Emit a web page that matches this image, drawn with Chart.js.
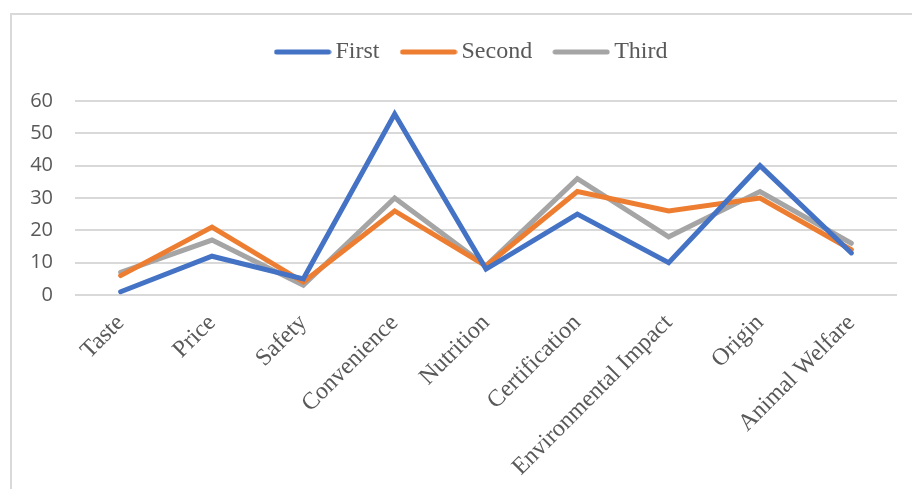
<!DOCTYPE html>
<html>
<head>
<meta charset="utf-8">
<script src="https://cdn.jsdelivr.net/npm/chart.js@4/dist/chart.umd.min.js"></script>
<style>
  html, body { margin: 0; padding: 0; background: #ffffff; }
  #wrap { position: relative; width: 912px; height: 489px; overflow: hidden; }
  #frame { position: absolute; left: 10px; top: 13px; width: 960px; height: 520px;
           border-left: 2px solid #d9d9d9; border-top: 2px solid #d9d9d9; box-sizing: border-box; }
  #c { position: absolute; left: 0; top: 0; }
</style>
</head>
<body>
<div id="wrap">
  <div id="frame"></div>
  <canvas id="c" width="912" height="489"></canvas>
</div>
<script>
// Purchase factors and how often each was ranked first, second and third
const categories = ['Taste', 'Price', 'Safety', 'Convenience', 'Nutrition', 'Certification', 'Environmental Impact', 'Origin', 'Animal Welfare'];
const firstValues  = [1, 12, 5, 56, 8, 25, 10, 40, 13];
const secondValues = [6, 21, 4, 26, 9, 32, 26, 30, 14];
const thirdValues  = [7, 17, 3, 30, 9, 36, 18, 32, 16];
const yTicks = [0, 10, 20, 30, 40, 50, 60];

const textGrey = '#595959';
const serif = '"Liberation Serif", "Times New Roman", serif';

function series(label, data, color) {
  return {
    label, data,
    borderColor: color,
    backgroundColor: color,
    borderWidth: 5,
    borderCapStyle: 'round',
    borderJoinStyle: 'miter',
    pointRadius: 0,
    pointHoverRadius: 0,
    tension: 0,
    fill: false
  };
}

// Small rounded line swatch used as the legend marker
function swatch(color) {
  const cv = document.createElement('canvas');
  cv.width = 58;
  cv.height = 8;
  const g = cv.getContext('2d');
  g.strokeStyle = color;
  g.lineWidth = 5;
  g.lineCap = 'round';
  g.beginPath();
  g.moveTo(3, 4);
  g.lineTo(55, 4);
  g.stroke();
  return cv;
}

// Extra room under the legend row and a slight shift of the row to the right
const legendTweak = {
  id: 'legendTweak',
  beforeLayout(chart) {
    const legend = chart.legend;
    if (legend && !legend._gapPatched) {
      const fit = legend.fit;
      legend.fit = function () { fit.call(this); this.height += 27; };
      legend._gapPatched = true;
    }
  },
  afterLayout(chart) {
    const legend = chart.legend;
    if (legend) { legend.left += 26; legend.right += 26; }
  }
};

new Chart(document.getElementById('c'), {
  type: 'line',
  data: {
    labels: categories,
    datasets: [
      series('First', firstValues, '#4472c4'),
      series('Second', secondValues, '#ed7d31'),
      series('Third', thirdValues, '#a5a5a5')
    ]
  },
  plugins: [legendTweak],
  options: {
    responsive: false,
    animation: false,
    layout: { padding: { left: 0, right: 15, top: 12, bottom: 0 } },
    plugins: {
      tooltip: { enabled: false },
      legend: {
        position: 'top',
        labels: {
          usePointStyle: true,
          pointStyleWidth: 42,
          padding: 28,
          color: textGrey,
          font: { family: serif, size: 24 },
          generateLabels(chart) {
            const items = Chart.defaults.plugins.legend.labels.generateLabels(chart);
            items.forEach(it => {
              it.pointStyle = swatch(chart.data.datasets[it.datasetIndex].borderColor);
            });
            return items;
          }
        }
      }
    },
    scales: {
      x: {
        offset: true,
        grid: { display: false },
        border: { display: false },
        ticks: {
          color: textGrey,
          minRotation: 45,
          maxRotation: 45,
          padding: 6,
          font: { family: serif, size: 24 }
        },
        afterFit(scale) { scale.height = 194; }
      },
      y: {
        min: 0,
        max: 60,
        afterBuildTicks(scale) { scale.ticks = yTicks.map(v => ({ value: v })); },
        grid: { color: '#d9d9d9', lineWidth: 2, drawTicks: false },
        border: { display: false },
        ticks: {
          color: textGrey,
          padding: 22,
          font: { family: '"Open Sans", "Liberation Sans", sans-serif', size: 20 }
        },
        afterFit(scale) { scale.width = 75; }
      }
    }
  }
});
</script>
</body>
</html>
